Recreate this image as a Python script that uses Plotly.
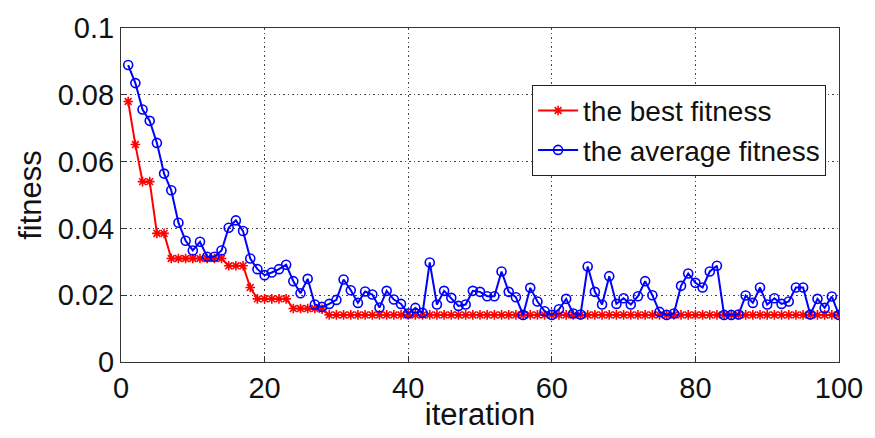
import plotly.graph_objects as go

iterations = list(range(1, 101))

best_fitness = [
    0.0780, 0.0651, 0.0540, 0.0540, 0.0385, 0.0385, 0.0310, 0.0310, 0.0310, 0.0310,
    0.0310, 0.0310, 0.0310, 0.0310, 0.0288, 0.0288, 0.0288, 0.0223, 0.0189, 0.0189,
    0.0189, 0.0189, 0.0189, 0.0160, 0.0160, 0.0160, 0.0160, 0.0158, 0.0141, 0.0141,
] + [0.0141] * 70

avg_fitness = [
    0.0889, 0.0835, 0.0756, 0.0722, 0.0656, 0.0564, 0.0514, 0.0417, 0.0363, 0.0334,
    0.0360, 0.0315, 0.0315, 0.0334, 0.0402, 0.0424, 0.0392, 0.0310, 0.0278, 0.0260,
    0.0268, 0.0278, 0.0291, 0.0242, 0.0206, 0.0249, 0.0172, 0.0165, 0.0174, 0.0186,
    0.0247, 0.0215, 0.0177, 0.0211, 0.0202, 0.0163, 0.0213, 0.0187, 0.0174, 0.0145,
    0.0162, 0.0147, 0.0298, 0.0172, 0.0213, 0.0192, 0.0168, 0.0172, 0.0213, 0.0210,
    0.0197, 0.0197, 0.0271, 0.0210, 0.0194, 0.0141, 0.0222, 0.0181, 0.0152, 0.0141,
    0.0158, 0.0189, 0.0145, 0.0142, 0.0286, 0.0210, 0.0172, 0.0257, 0.0174, 0.0191,
    0.0172, 0.0197, 0.0242, 0.0200, 0.0150, 0.0141, 0.0145, 0.0228, 0.0265, 0.0237,
    0.0223, 0.0271, 0.0288, 0.0141, 0.0141, 0.0142, 0.0199, 0.0177, 0.0223, 0.0172,
    0.0191, 0.0174, 0.0181, 0.0223, 0.0223, 0.0142, 0.0189, 0.0162, 0.0196, 0.0141,
]

x_ticks = [0, 20, 40, 60, 80, 100]
y_ticks = [0, 0.02, 0.04, 0.06, 0.08, 0.1]
y_tick_text = ["0", "0.02", "0.04", "0.06", "0.08", "0.1"]

fig = go.Figure()
fig.add_trace(go.Scatter(
    x=iterations, y=best_fitness, mode="lines+markers", name="the best fitness",
    line=dict(color="#ff0000", width=2),
    marker=dict(symbol="asterisk-open", size=8, color="#ff0000",
                line=dict(color="#ff0000", width=1.6)),
))
fig.add_trace(go.Scatter(
    x=iterations, y=avg_fitness, mode="lines+markers", name="the average fitness",
    line=dict(color="#0000ff", width=2),
    marker=dict(symbol="circle-open", size=9, color="#0000ff",
                line=dict(color="#0000ff", width=1.6)),
))

font_family = "Liberation Sans, Arial, sans-serif"
axis_common = dict(
    showline=True, mirror=True, linecolor="#333333", linewidth=1.2,
    ticks="inside", ticklen=6, tickcolor="#333333",
    showgrid=True, gridcolor="#444444", griddash="1.5px,3px", gridwidth=1.2,
    zeroline=False,
    tickfont=dict(family=font_family, size=29, color="#111111"),
)

fig.update_layout(
    width=875, height=438,
    margin=dict(l=121, r=30, t=22, b=75),
    paper_bgcolor="white", plot_bgcolor="white",
    font=dict(family=font_family, color="#111111"),
    xaxis=dict(range=[0, 100], tickvals=x_ticks,
               title=dict(text="iteration", font=dict(family=font_family, size=31), standoff=0),
               **axis_common),
    yaxis=dict(range=[0, 0.1], tickvals=y_ticks, ticktext=y_tick_text,
               title=dict(text="fitness", font=dict(family=font_family, size=31), standoff=6),
               **axis_common),
    legend=dict(x=0.982, y=0.83, xanchor="right", yanchor="top",
                bgcolor="white", bordercolor="#222222", borderwidth=1,
                font=dict(family=font_family, size=28, color="#111111"),
                tracegroupgap=0, itemwidth=40),
    showlegend=True,
)

fig.write_html("out.html")
